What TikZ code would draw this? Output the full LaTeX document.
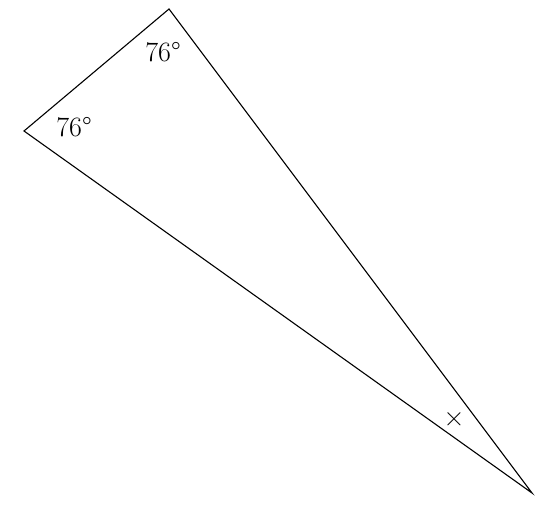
\documentclass[tikz,border=0pt]{standalone}
\usepackage{fontspec}
\usepackage{amsmath}
\usepackage{xcolor}
\usepackage{tikz}

\begin{document}
\begin{tikzpicture}[x=1pt,y=-1pt]
	\useasboundingbox (0,0) rectangle (546,506);
	\tikzset{anglelabel/.style={font=\fontsize{28}{32}\selectfont,inner sep=0pt}}

	\coordinate (A) at (169,9);
	\coordinate (B) at (24,131);
	\coordinate (C) at (532,493);
	\draw[line width=1.1pt,line join=miter] (A) -- (B) -- (C) -- cycle;

	\node[anglelabel] (angA) at (163,52) {76°};
	\node[anglelabel] (angB) at (74,127) {76°};
	\node[font=\fontsize{29}{32}\selectfont,inner sep=0pt] (angC) at (454,419) {×};
\end{tikzpicture}
\end{document}
